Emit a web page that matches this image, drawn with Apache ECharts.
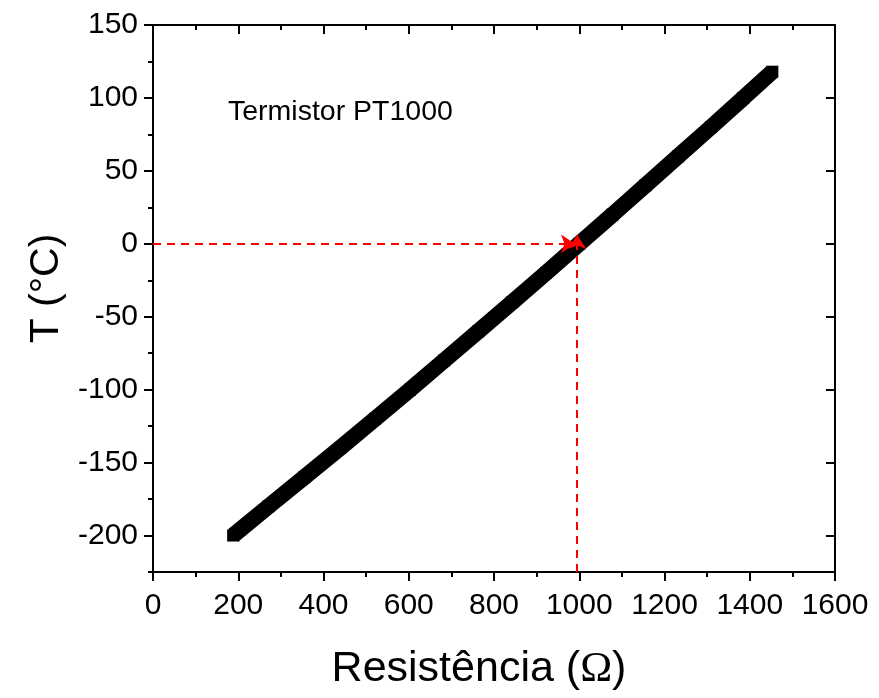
<!DOCTYPE html>
<html>
<head>
<meta charset="utf-8">
<script src="https://cdn.jsdelivr.net/npm/echarts@6/dist/echarts.min.js"></script>
<style>html,body{margin:0;padding:0;background:#fff}#c{width:879px;height:698px}</style>
</head>
<body>
<div id="c"></div>
<script>
// Data
const temperatures = [-200, -180, -160, -140, -120, -100, -80, -60, -40, -20, 0, 20, 40, 60, 80, 100, 118];
const resistances  = [188, 271, 355, 439, 521, 603, 683, 763, 843, 922, 1000, 1078, 1155, 1232, 1309, 1385, 1453];
const xTicks = [0, 200, 400, 600, 800, 1000, 1200, 1400, 1600];
const yMajor = [-200, -150, -100, -50, 0, 50, 100, 150];
const yMinor = [-225, -175, -125, -75, -25, 25, 75, 125];
const hArrow = [[0, 0], [990, 0]];
const vArrow = [[995, -225], [995, 6]];
const annotation = 'Termistor PT1000';

const FONT = 'Liberation Sans, Arial, sans-serif';
const seriesData = temperatures.map((t, i) => [resistances[i], t]);

const axLine = {show: true, onZero: false, lineStyle: {color: '#000', width: 2}};

function yAx(pos, vals, showLabel, inside, len, showLine) {
  return {
    type: 'value', position: pos, min: -225, max: 150,
    axisLine: showLine ? axLine : {show: false},
    splitLine: {show: false},
    axisTick: {show: true, inside: inside, length: len, customValues: vals, lineStyle: {color: '#000', width: 2}},
    axisLabel: {show: showLabel, customValues: vals, fontSize: 30, color: '#000', fontFamily: FONT, margin: 15,
      formatter: v => String(v)},
  };
}

const option = {
  animation: false,
  backgroundColor: '#fff',
  grid: {left: 153, right: 44, top: 25, bottom: 126, containLabel: false},
  xAxis: [
    {
      type: 'value', position: 'bottom', min: 0, max: 1600, interval: 200,
      axisLine: axLine, splitLine: {show: false},
      axisTick: {show: true, inside: false, length: 9, lineStyle: {color: '#000', width: 2}},
      minorTick: {show: true, splitNumber: 2, length: 5, lineStyle: {color: '#000', width: 2}},
      axisLabel: {fontSize: 30, color: '#000', fontFamily: FONT, margin: 19, formatter: v => String(v)},
      name: 'Resistência ({o|Ω})', nameLocation: 'middle', nameGap: 76,
      nameTextStyle: {fontSize: 43, color: '#000', fontFamily: FONT, padding: [0, 30, 0, 0],
        rich: {o: {fontSize: 43, fontFamily: 'Liberation Serif, Times New Roman, serif', color: '#000'}}}
    },
    {
      type: 'value', position: 'top', min: 0, max: 1600, interval: 200,
      axisLine: axLine, splitLine: {show: false},
      axisTick: {show: true, inside: true, length: 9, lineStyle: {color: '#000', width: 2}},
      minorTick: {show: true, splitNumber: 2, length: 5, lineStyle: {color: '#000', width: 2}},
      axisLabel: {show: false}
    }
  ],
  yAxis: [
    Object.assign(yAx('left', yMajor, true, false, 9, true), {
      name: 'T (°C)', nameLocation: 'middle', nameGap: 78, nameRotate: 90,
      nameTextStyle: {fontSize: 41, color: '#000', fontFamily: FONT, padding: [0, 0, 0, 20]}
    }),
    yAx('left', yMinor, false, false, 5, false),
    yAx('right', yMajor, false, true, 9, true),
    yAx('right', yMinor, false, true, 5, false)
  ],
  graphic: [{
    type: 'text', left: 228, top: 98,
    style: {text: annotation, fontSize: 28.5, fill: '#000', fontFamily: FONT}
  }],
  series: [
    {
      type: 'line', data: seriesData, xAxisIndex: 0, yAxisIndex: 0,
      lineStyle: {color: '#000', width: 16, cap: 'butt'},
      itemStyle: {color: '#000'},
      symbol: 'rect', symbolSize: 12, showSymbol: true, showAllSymbol: true,
      z: 2
    },
    {
      type: 'lines', coordinateSystem: 'cartesian2d', xAxisIndex: 0, yAxisIndex: 0,
      data: [{coords: hArrow}, {coords: vArrow}],
      lineStyle: {color: '#ff0000', width: 2, type: [8, 6], opacity: 1},
      symbol: ['none', 'arrow'], symbolSize: 14,
      z: 5
    }
  ]
};

const chart = echarts.init(document.getElementById('c'), null, {renderer: 'canvas'});
chart.setOption(option);
</script>
</body>
</html>
